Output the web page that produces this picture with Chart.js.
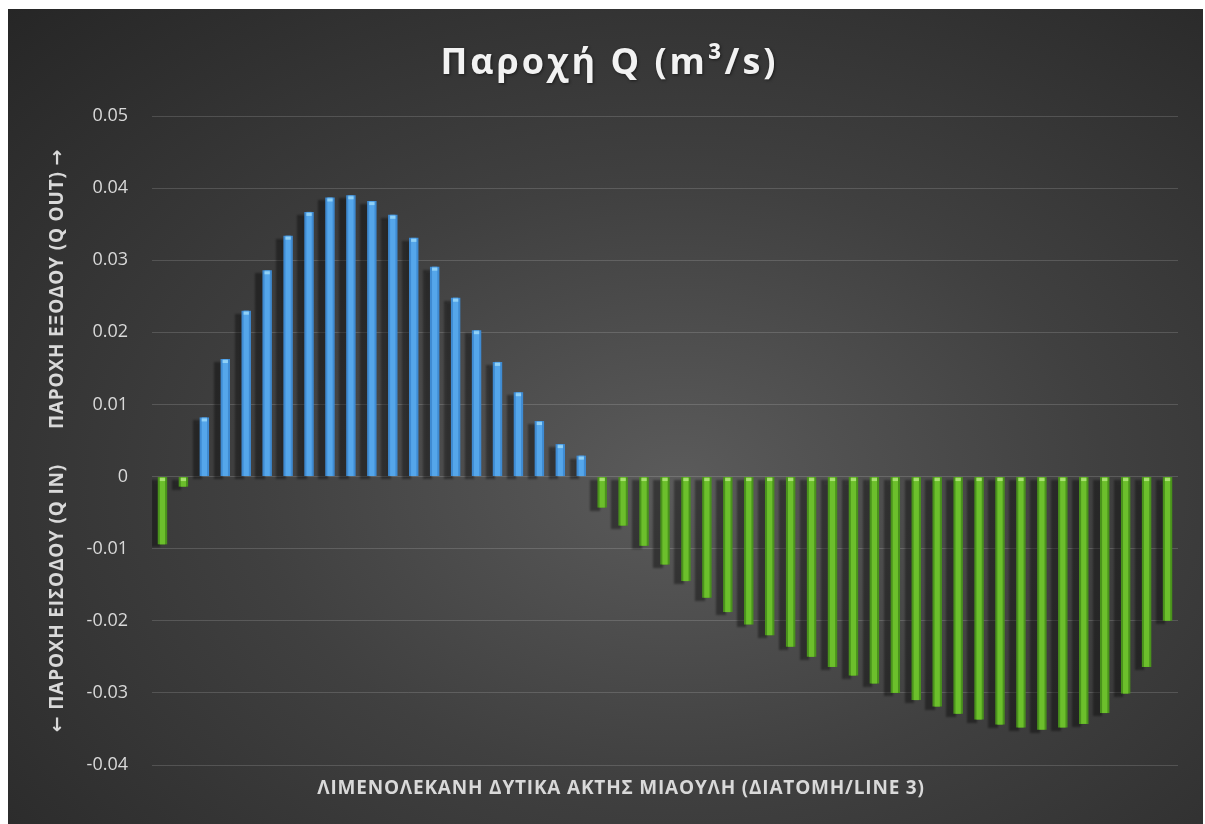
<!DOCTYPE html>
<html>
<head>
<meta charset="utf-8">
<title>Παροχή Q</title>
<script src="https://cdn.jsdelivr.net/npm/chart.js@4.4.1/dist/chart.umd.min.js"></script>
<style>
    html, body { margin: 0; background: #ffffff; }
    #wrap {
        position: absolute; left: 8px; top: 9px; width: 1195px; height: 815px;
        background: radial-gradient(ellipse farthest-corner at 56% 58%, #5b5b5b 0%, #404040 45%, #262626 100%);
    }
</style>
</head>
<body>
<div id="wrap"><canvas id="chartQ"></canvas></div>
<script>
// sections along line 3
const sections = ["1","2","3","4","5","6","7","8","9","10","11","12","13","14","15","16","17","18","19","20",
    "21","22","23","24","25","26","27","28","29","30","31","32","33","34","35","36","37","38","39","40",
    "41","42","43","44","45","46","47","48","49"];

// outflow (Q OUT, positive)
const qOut = [null, null,
    0.0082, 0.0163, 0.0230, 0.0286, 0.0334, 0.0367, 0.0387, 0.0390, 0.0382, 0.0363,
    0.0331, 0.0291, 0.0248, 0.0203, 0.0159, 0.0117, 0.0077, 0.0045, 0.0029,
    null, null, null, null, null, null, null, null, null, null, null, null, null, null,
    null, null, null, null, null, null, null, null, null, null, null, null, null, null];

// inflow (Q IN, negative)
const qIn = [-0.0094, -0.0014,
    null, null, null, null, null, null, null, null, null, null,
    null, null, null, null, null, null, null, null, null,
    -0.0043, -0.0068, -0.0096, -0.0122, -0.0145, -0.0168, -0.0188, -0.0205, -0.0220, -0.0236,
    -0.0250, -0.0264, -0.0276, -0.0287, -0.0300, -0.0310, -0.0319, -0.0329, -0.0337, -0.0344,
    -0.0348, -0.0351, -0.0348, -0.0343, -0.0328, -0.0301, -0.0264, -0.0200];

const yMin = -0.04, yMax = 0.05, yStep = 0.01;

const titleText = "Παροχή Q (m³/s)";
const xTitle = "ΛΙΜΕΝΟΛΕΚΑΝΗ ΔΥΤΙΚΑ ΑΚΤΗΣ ΜΙΑΟΥΛΗ (ΔΙΑΤΟΜΗ/LINE 3)";
const yTitleIn = "← ΠΑΡΟΧΗ ΕΙΣΟΔΟΥ (Q IN)";
const yTitleOut = "ΠΑΡΟΧΗ ΕΞΟΔΟΥ (Q OUT) →";

const FONT = "'Open Sans', 'DejaVu Sans', sans-serif";

// drop shadow behind the bars + light stripe / cap on top of them
const barLook = {
    id: "barLook",
    beforeDatasetsDraw(chart) {
        const ctx = chart.ctx;
        ctx.save();
        ctx.shadowColor = "rgba(0,0,0,0.38)";
        ctx.shadowOffsetX = -7;
        ctx.shadowOffsetY = 3;
        ctx.shadowBlur = 2;
    },
    afterDatasetsDraw(chart) {
        const ctx = chart.ctx;
        ctx.restore();
        ctx.save();
        chart.data.datasets.forEach((ds, i) => {
            chart.getDatasetMeta(i).data.forEach((el, j) => {
                if (ds.data[j] === null) return;
                const p = el.getProps(["x", "y", "base", "width"], true);
                const top = Math.min(p.y, p.base), bot = Math.max(p.y, p.base);
                const w = p.width * 0.56;
                ctx.fillStyle = ds.stripe;
                ctx.fillRect(p.x - w / 2, top, w, bot - top);
                ctx.fillStyle = ds.cap;
                ctx.fillRect(p.x - w / 2, top + 1, w, Math.min(3, bot - top - 1));
            });
        });
        ctx.restore();
    },
    afterDraw(chart) {
        const ctx = chart.ctx;
        const area = chart.chartArea;
        ctx.save();

        // main title
        ctx.font = "bold 36px " + FONT;
        ctx.letterSpacing = "3px";
        ctx.fillStyle = "#f2f2f2";
        ctx.textAlign = "center";
        ctx.textBaseline = "middle";
        ctx.shadowColor = "rgba(0,0,0,0.5)";
        ctx.shadowOffsetX = 1;
        ctx.shadowOffsetY = 1;
        ctx.shadowBlur = 3;
        ctx.fillText(titleText, chart.width / 2 + 4, 55);
        ctx.shadowColor = "transparent";

        // x axis title
        ctx.letterSpacing = "0.8px";
        ctx.font = "bold 19px " + FONT;
        ctx.fillStyle = "#d9d9d9";
        ctx.fillText(xTitle, 613, 780);

        // y axis title: two parts, read bottom to top
        const gap = 35;
        const w1 = ctx.measureText(yTitleIn).width;
        const w2 = ctx.measureText(yTitleOut).width;
        const cy = (area.top + area.bottom) / 2;
        ctx.translate(50, cy + (w1 + gap + w2) / 2);
        ctx.rotate(-Math.PI / 2);
        ctx.textAlign = "left";
        ctx.fillText(yTitleIn, 0, 0);
        ctx.fillText(yTitleOut, w1 + gap, 0);
        ctx.restore();
    }
};

new Chart(document.getElementById("chartQ"), {
    type: "bar",
    data: {
        labels: sections,
        datasets: [{
            label: "Q OUT",
            data: qOut,
            backgroundColor: "#3f8bd2",
            stripe: "#55a6ea",
            cap: "#8fd0f6",
            grouped: false
        }, {
            label: "Q IN",
            data: qIn,
            backgroundColor: "#4a931c",
            stripe: "#6cbf2c",
            cap: "#a8e070",
            grouped: false
        }]
    },
    options: {
        responsive: true,
        maintainAspectRatio: false,
        animation: false,
        categoryPercentage: 1,
        barPercentage: 0.45,
        layout: { padding: { top: 107, right: 25, bottom: 59, left: 0 } },
        plugins: {
            legend: { display: false },
            tooltip: { enabled: false }
        },
        scales: {
            x: { display: false },
            y: {
                min: yMin,
                max: yMax,
                afterFit(scale) { scale.width = 144; },
                border: { display: false },
                grid: { color: "rgba(255,255,255,0.15)", lineWidth: 1, drawTicks: false },
                ticks: {
                    stepSize: yStep,
                    padding: 24,
                    color: "#d9d9d9",
                    font: { family: FONT, size: 18 },
                    callback: v => String(Number(v.toFixed(2)))
                }
            }
        }
    },
    plugins: [barLook]
});
</script>
</body>
</html>
